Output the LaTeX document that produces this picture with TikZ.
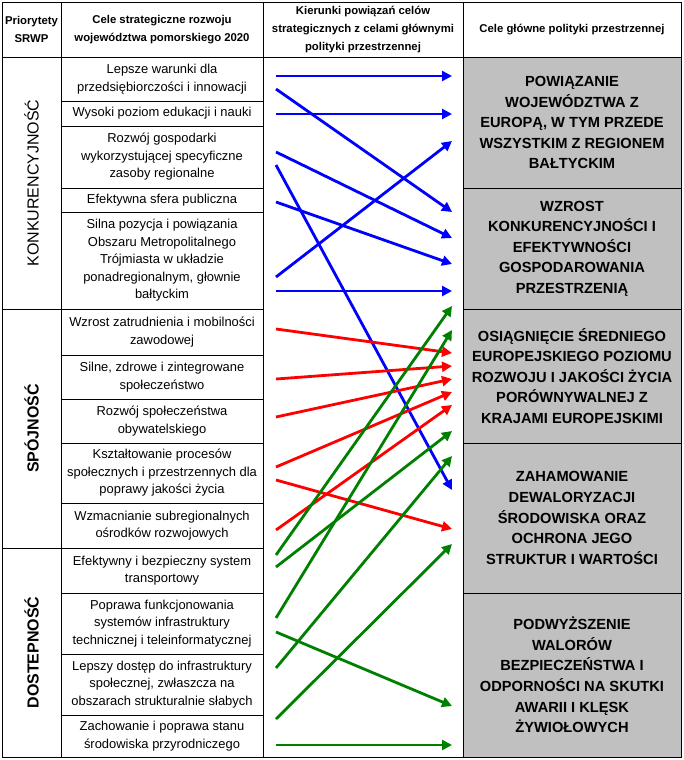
\documentclass[tikz,border=0pt]{standalone}
\usepackage{fontspec}
\setmainfont{Liberation Sans}
\usetikzlibrary{arrows.meta}
\definecolor{LinkBlue}{HTML}{0000FF}
\definecolor{LinkRed}{HTML}{FF0000}
\definecolor{LinkGreen}{HTML}{008000}
\definecolor{AimGray}{HTML}{C0C0C0}

\begin{document}
\begin{tikzpicture}[
      x=0.75pt,y=-0.75pt,
      cell/.style={draw,line width=0.75pt,inner sep=0pt,align=center},
      head/.style={cell,minimum height=41.25pt,font=\fontsize{8.5}{13.5}\selectfont\bfseries},
      goal/.style={cell,minimum width=151.5pt,font=\fontsize{9.7}{13.1}\selectfont},
      prio/.style={cell,rotate=90,minimum height=44.25pt,font=\fontsize{12}{14}\selectfont},
      aim/.style={cell,fill=AimGray,minimum width=163.5pt,font=\fontsize{11}{15.4}\selectfont\bfseries},
      link/.style={line width=2.1pt,draw=#1,-{Triangle[length=7.5pt,width=7.5pt]}}
    ]
      \useasboundingbox (0,0) rectangle (683,760);
      % header
      \node[head,minimum width=44.25pt] (hprio) at (31.5,29.5) {Priorytety\\SRWP};
      \node[head,minimum width=151.5pt] (hgoal) at (162,29.5) {Cele strategiczne rozwoju\\województwa pomorskiego 2020};
      \node[head,minimum width=150pt] (hlink) at (363,29.5) {Kierunki powiązań celów\\strategicznych z celami głównymi\\polityki przestrzennej};
      \node[head,minimum width=163.5pt] (haim) at (572,29.5) {Cele główne polityki przestrzennej};
      % priorities
      \node[prio,minimum width=189pt] (p1) at (31.5,183) {KONKURENCYJNOŚĆ};
      \node[prio,minimum width=179.25pt,font=\fontsize{12}{14}\selectfont\bfseries] (p2) at (31.5,428.5) {SPÓJNOŚĆ};
      \node[prio,minimum width=156.75pt,font=\fontsize{12}{14}\selectfont\bfseries] (p3) at (31.5,652.5) {DOSTEPNOŚĆ};
      % strategic goals
      \node[goal,minimum height=33pt] (g1) at (162,79) {Lepsze warunki dla\\przedsiębiorczości i innowacji};
      \node[goal,minimum height=18.75pt] (g2) at (162,113.5) {Wysoki poziom edukacji i nauki};
      \node[goal,minimum height=46.5pt] (g3) at (162,157) {Rozwój gospodarki\\wykorzystującej specyficzne\\zasoby regionalne};
      \node[goal,minimum height=18pt] (g4) at (162,200) {Efektywna sfera publiczna};
      \node[goal,minimum height=72.75pt] (g5) at (162,260.5) {Silna pozycja i powiązania\\Obszaru Metropolitalnego\\Trójmiasta w układzie\\ponadregionalnym, głownie\\bałtyckim};
      \node[goal,minimum height=34.5pt] (g6) at (162,332) {Wzrost zatrudnienia i mobilności\\zawodowej};
      \node[goal,minimum height=33pt] (g7) at (162,377) {Silne, zdrowe i zintegrowane\\społeczeństwo};
      \node[goal,minimum height=33pt] (g8) at (162,421) {Rozwój społeczeństwa\\obywatelskiego};
      \node[goal,minimum height=45pt] (g9) at (162,473) {Kształtowanie procesów\\społecznych i przestrzennych dla\\poprawy jakości życia};
      \node[goal,minimum height=33.75pt] (g10) at (162,525.5) {Wzmacnianie subregionalnych\\ośrodków rozwojowych};
      \node[goal,minimum height=33.75pt] (g11) at (162,570.5) {Efektywny i bezpieczny system\\transportowy};
      \node[goal,minimum height=45.75pt] (g12) at (162,623.5) {Poprawa funkcjonowania\\systemów infrastruktury\\technicznej i teleinformatycznej};
      \node[goal,minimum height=45.75pt] (g13) at (162,684.5) {Lepszy dostęp do infrastruktury\\społecznej, zwłaszcza na\\obszarach strukturalnie słabych};
      \node[goal,minimum height=31.5pt] (g14) at (162,736) {Zachowanie i poprawa stanu\\środowiska przyrodniczego};
      % links column
      \node[cell,minimum width=150pt,minimum height=525pt] (mid) at (363,407) {};
      % main aims
      \node[aim,minimum height=98.25pt] (a1) at (572,122.5) {POWIĄZANIE\\WOJEWÓDZTWA Z\\EUROPĄ, W TYM PRZEDE\\WSZYSTKIM Z REGIONEM\\BAŁTYCKIM};
      \node[aim,minimum height=90.75pt] (a2) at (572,248.5) {WZROST\\KONKURENCYJNOŚCI I\\EFEKTYWNOŚCI\\GOSPODAROWANIA\\PRZESTRZENIĄ};
      \node[aim,minimum height=100.5pt] (a3) at (572,376) {OSIĄGNIĘCIE ŚREDNIEGO\\EUROPEJSKIEGO POZIOMU\\ROZWOJU I JAKOŚCI ŻYCIA\\PORÓWNYWALNEJ Z\\KRAJAMI EUROPEJSKIMI};
      \node[aim,minimum height=112.5pt] (a4) at (572,518) {ZAHAMOWANIE\\DEWALORYZACJI\\ŚRODOWISKA ORAZ\\OCHRONA JEGO\\STRUKTUR I WARTOŚCI};
      \node[aim,minimum height=123pt] (a5) at (572,675) {PODWYŻSZENIE\\WALORÓW\\BEZPIECZEŃSTWA I\\ODPORNOŚCI NA SKUTKI\\AWARII I KLĘSK\\ŻYWIOŁOWYCH};
      % blue links
      \coordinate (bs1) at (276,76);  \coordinate (be1) at (452,76);
      \coordinate (bs2) at (276,89);  \coordinate (be2) at (452,212);
      \coordinate (bs3) at (276,114); \coordinate (be3) at (452,114);
      \coordinate (bs4) at (276,152); \coordinate (be4) at (452,238);
      \coordinate (bs5) at (276,165); \coordinate (be5) at (452,490);
      \coordinate (bs6) at (276,202); \coordinate (be6) at (452,264);
      \coordinate (bs7) at (276,277); \coordinate (be7) at (452,141);
      \coordinate (bs8) at (276,291); \coordinate (be8) at (452,291);
      \draw[link=LinkBlue] (bs1) -- (be1);
      \draw[link=LinkBlue] (bs2) -- (be2);
      \draw[link=LinkBlue] (bs3) -- (be3);
      \draw[link=LinkBlue] (bs4) -- (be4);
      \draw[link=LinkBlue] (bs5) -- (be5);
      \draw[link=LinkBlue] (bs6) -- (be6);
      \draw[link=LinkBlue] (bs7) -- (be7);
      \draw[link=LinkBlue] (bs8) -- (be8);
      % red links
      \coordinate (rs1) at (276,329); \coordinate (re1) at (452,353);
      \coordinate (rs2) at (276,379); \coordinate (re2) at (452,366);
      \coordinate (rs3) at (276,417); \coordinate (re3) at (452,379);
      \coordinate (rs4) at (276,467); \coordinate (re4) at (452,392);
      \coordinate (rs5) at (276,480); \coordinate (re5) at (452,529);
      \coordinate (rs6) at (276,530); \coordinate (re6) at (452,405);
      \draw[link=LinkRed] (rs1) -- (re1);
      \draw[link=LinkRed] (rs2) -- (re2);
      \draw[link=LinkRed] (rs3) -- (re3);
      \draw[link=LinkRed] (rs4) -- (re4);
      \draw[link=LinkRed] (rs5) -- (re5);
      \draw[link=LinkRed] (rs6) -- (re6);
      % green links
      \coordinate (ks1) at (276,555); \coordinate (ke1) at (452,306);
      \coordinate (ks2) at (276,567); \coordinate (ke2) at (452,431);
      \coordinate (ks3) at (276,618); \coordinate (ke3) at (452,330);
      \coordinate (ks4) at (276,668); \coordinate (ke4) at (452,456);
      \coordinate (ks5) at (276,632); \coordinate (ke5) at (452,706);
      \coordinate (ks6) at (276,719); \coordinate (ke6) at (452,544);
      \coordinate (ks7) at (276,745); \coordinate (ke7) at (452,745);
      \draw[link=LinkGreen] (ks1) -- (ke1);
      \draw[link=LinkGreen] (ks2) -- (ke2);
      \draw[link=LinkGreen] (ks3) -- (ke3);
      \draw[link=LinkGreen] (ks4) -- (ke4);
      \draw[link=LinkGreen] (ks5) -- (ke5);
      \draw[link=LinkGreen] (ks6) -- (ke6);
      \draw[link=LinkGreen] (ks7) -- (ke7);
    \end{tikzpicture}
\end{document}
